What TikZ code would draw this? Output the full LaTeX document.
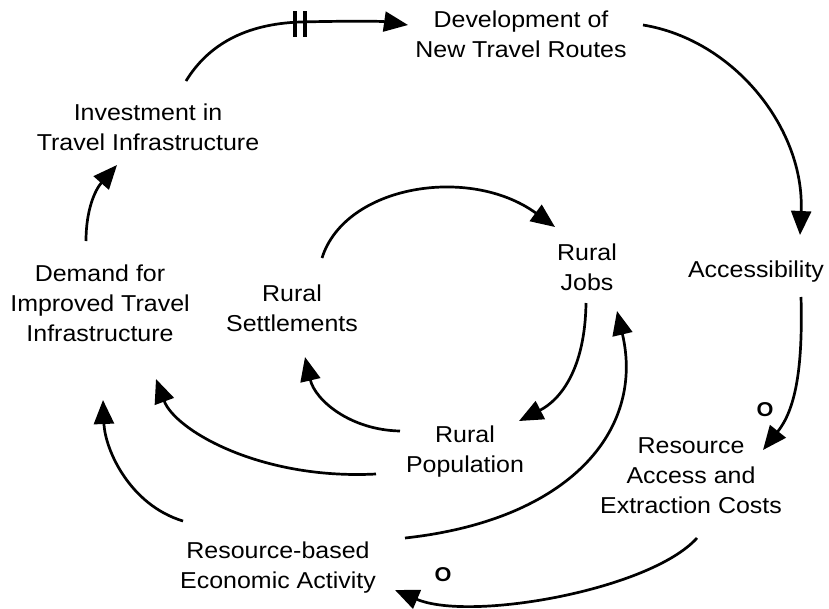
\documentclass[tikz,border=0pt]{standalone}
\usepackage{fontspec}
\setmainfont{Liberation Sans}[FakeStretch=1.085]
\usetikzlibrary{arrows.meta,calc}
\tikzset{
  lbl/.style={align=center,inner sep=0pt,font=\fontsize{23}{30}\selectfont},
  link/.style={line width=2.7pt,-{Triangle[length=24pt,width=20pt]}},
  pol/.style={inner sep=0pt,font=\fontsize{20}{22}\selectfont\bfseries},
  delay/.style={line width=4.5pt}
}
\begin{document}
\begin{tikzpicture}[x=1pt,y=-1pt]
\useasboundingbox (0,0) rectangle (829,608);
% nodes
\node[lbl] (dev) at (521,36) {\strut Development of\\\strut New Travel Routes};
\node[lbl] (inv) at (148,129) {\strut Investment in\\\strut Travel Infrastructure};
\node[lbl] (dem) at (100,305) {\strut Demand for\\\strut Improved Travel\\\strut Infrastructure};
\node[lbl] (set) at (292,310) {\strut Rural\\\strut Settlements};
\node[lbl] (jobs) at (587,269) {\strut Rural\\\strut Jobs};
\node[lbl] (acc) at (756,271) {\strut Accessibility};
\node[lbl] (pop) at (465,451) {\strut Rural\\\strut Population};
\node[lbl] (res) at (691,477) {\strut Resource\\\strut Access and\\\strut Extraction Costs};
\node[lbl] (eco) at (278,567) {\strut Resource-based\\\strut Economic Activity};
% connectors
\draw[link] ($(inv.center)+(38,-48)$) .. controls (208,45) and (245,24) .. (300,22)
  .. controls (340,21) and (380,21) .. ($(dev.center)+(-113,-11)$);
\draw[delay] (295,11) -- (295,37) (305,11) -- (305,37);
\draw[link] ($(dev.center)+(122,-11)$) .. controls (735,40) and (805,130) .. ($(acc.center)+(44,-36)$);
\draw[link] ($(acc.center)+(45,26)$) .. controls (803,370) and (795,410) .. ($(res.center)+(72,-27)$);
\node[pol] (o1) at (765,410) {O};
\draw[link] ($(res.center)+(6,61)$) .. controls (650,590) and (470,622) .. ($(eco.center)+(117,23)$);
\node[pol] (o2) at (443,575) {O};
\draw[link] ($(eco.center)+(127,-29)$) .. controls (570,520) and (645,430) .. ($(jobs.center)+(30,42)$);
\draw[link] ($(jobs.center)+(-1,34)$) .. controls (585,370) and (560,400) .. ($(pop.center)+(54,-30)$);
\draw[link] ($(pop.center)+(-65,-20)$) .. controls (350,430) and (315,400) .. ($(set.center)+(13,47)$);
\draw[link] ($(pop.center)+(-89,23)$) .. controls (260,480) and (175,430) .. ($(dem.center)+(56,74)$);
\draw[link] ($(eco.center)+(-95,-46)$) .. controls (130,505) and (105,450) .. ($(dem.center)+(3,95)$);
\draw[link] ($(dem.center)+(-14,-64)$) .. controls (86,210) and (95,190) .. ($(inv.center)+(-31,36)$);
\draw[link] ($(set.center)+(30,-52)$) .. controls (345,185) and (470,165) .. ($(jobs.center)+(-32,-42)$);
\end{tikzpicture}
\end{document}
